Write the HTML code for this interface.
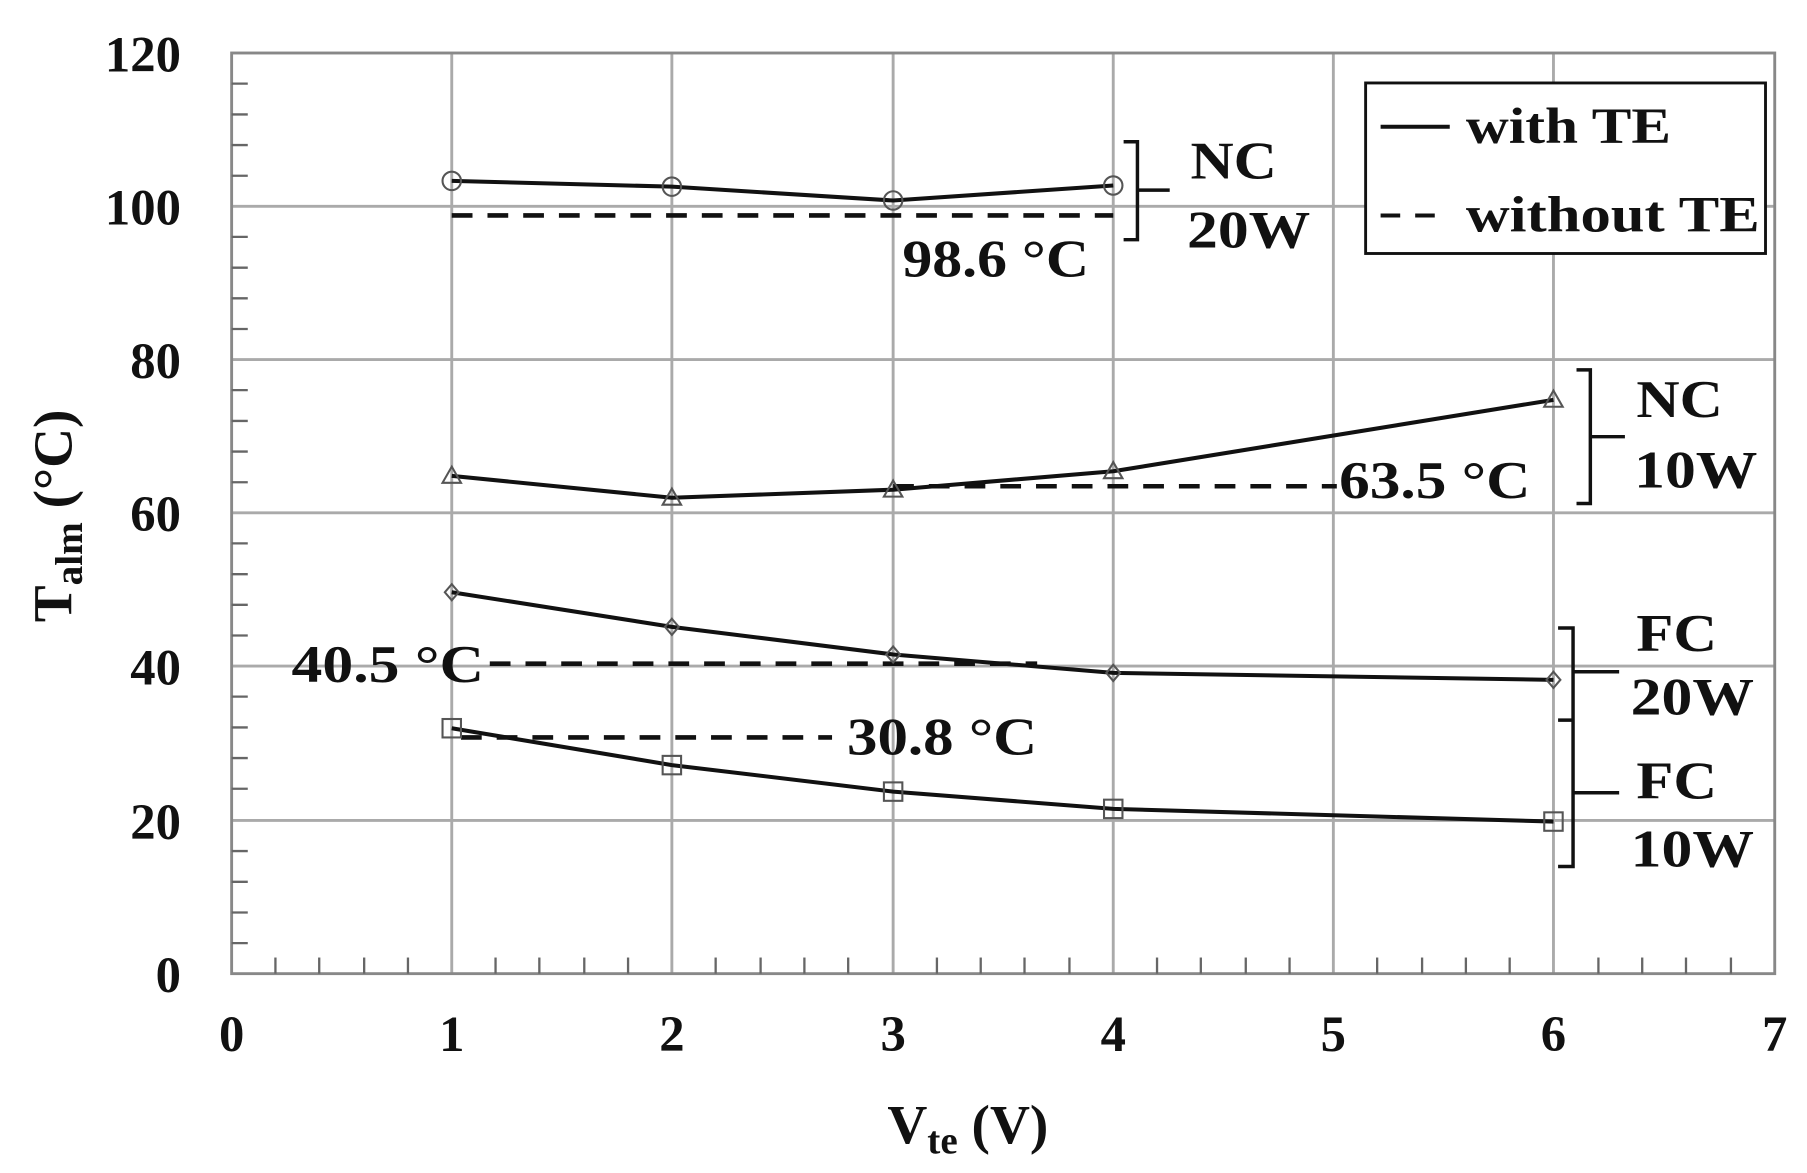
<!DOCTYPE html>
<html><head><meta charset="utf-8"><style>
html,body{margin:0;padding:0;background:#fff}
svg{display:block}
text{font-family:"Liberation Serif",serif;font-weight:bold;fill:#111}
</style></head><body>
<svg width="1807" height="1173" viewBox="0 0 1568 1018" preserveAspectRatio="none" xmlns="http://www.w3.org/2000/svg">
<g stroke="#aaa" stroke-width="2.5" fill="none">
<line x1="392" y1="46" x2="392" y2="845"/><line x1="583" y1="46" x2="583" y2="845"/><line x1="775" y1="46" x2="775" y2="845"/><line x1="966" y1="46" x2="966" y2="845"/><line x1="1157" y1="46" x2="1157" y2="845"/><line x1="1348" y1="46" x2="1348" y2="845"/>
<line x1="201" y1="179" x2="1540" y2="179"/><line x1="201" y1="312" x2="1540" y2="312"/><line x1="201" y1="445" x2="1540" y2="445"/><line x1="201" y1="578" x2="1540" y2="578"/><line x1="201" y1="712" x2="1540" y2="712"/>
<rect x="201" y="46" width="1339" height="799" stroke="#888"/>
</g>
<g stroke="#666" stroke-width="2">
<line x1="201" y1="72.6" x2="215" y2="72.6"/><line x1="201" y1="99.3" x2="215" y2="99.3"/><line x1="201" y1="125.9" x2="215" y2="125.9"/><line x1="201" y1="152.5" x2="215" y2="152.5"/>
<line x1="201" y1="205.6" x2="215" y2="205.6"/><line x1="201" y1="232.3" x2="215" y2="232.3"/><line x1="201" y1="258.9" x2="215" y2="258.9"/><line x1="201" y1="285.5" x2="215" y2="285.5"/>
<line x1="201" y1="338.6" x2="215" y2="338.6"/><line x1="201" y1="365.3" x2="215" y2="365.3"/><line x1="201" y1="391.9" x2="215" y2="391.9"/><line x1="201" y1="418.5" x2="215" y2="418.5"/>
<line x1="201" y1="471.6" x2="215" y2="471.6"/><line x1="201" y1="498.3" x2="215" y2="498.3"/><line x1="201" y1="524.9" x2="215" y2="524.9"/><line x1="201" y1="551.5" x2="215" y2="551.5"/>
<line x1="201" y1="604.6" x2="215" y2="604.6"/><line x1="201" y1="631.3" x2="215" y2="631.3"/><line x1="201" y1="657.9" x2="215" y2="657.9"/><line x1="201" y1="684.5" x2="215" y2="684.5"/>
<line x1="201" y1="738.6" x2="215" y2="738.6"/><line x1="201" y1="765.3" x2="215" y2="765.3"/><line x1="201" y1="791.9" x2="215" y2="791.9"/><line x1="201" y1="818.5" x2="215" y2="818.5"/>
</g>
<g stroke="#666" stroke-width="2">
<line x1="239" y1="845" x2="239" y2="831"/><line x1="277" y1="845" x2="277" y2="831"/><line x1="316" y1="845" x2="316" y2="831"/><line x1="354" y1="845" x2="354" y2="831"/>
<line x1="430" y1="845" x2="430" y2="831"/><line x1="468" y1="845" x2="468" y2="831"/><line x1="507" y1="845" x2="507" y2="831"/><line x1="545" y1="845" x2="545" y2="831"/>
<line x1="621" y1="845" x2="621" y2="831"/><line x1="660" y1="845" x2="660" y2="831"/><line x1="698" y1="845" x2="698" y2="831"/><line x1="736" y1="845" x2="736" y2="831"/>
<line x1="813" y1="845" x2="813" y2="831"/><line x1="851" y1="845" x2="851" y2="831"/><line x1="889" y1="845" x2="889" y2="831"/><line x1="928" y1="845" x2="928" y2="831"/>
<line x1="1004" y1="845" x2="1004" y2="831"/><line x1="1042" y1="845" x2="1042" y2="831"/><line x1="1081" y1="845" x2="1081" y2="831"/><line x1="1119" y1="845" x2="1119" y2="831"/>
<line x1="1195" y1="845" x2="1195" y2="831"/><line x1="1234" y1="845" x2="1234" y2="831"/><line x1="1272" y1="845" x2="1272" y2="831"/><line x1="1310" y1="845" x2="1310" y2="831"/>
<line x1="1387" y1="845" x2="1387" y2="831"/><line x1="1425" y1="845" x2="1425" y2="831"/><line x1="1463" y1="845" x2="1463" y2="831"/><line x1="1502" y1="845" x2="1502" y2="831"/>
</g>
<g font-size="44" text-anchor="end">
<text x="157" y="62">120</text><text x="157" y="195">100</text><text x="157" y="328">80</text><text x="157" y="461">60</text><text x="157" y="594">40</text><text x="157" y="728">20</text><text x="157" y="861">0</text>
</g>
<g font-size="44" text-anchor="middle">
<text x="201" y="912">0</text><text x="392" y="912">1</text><text x="583" y="912">2</text><text x="775" y="912">3</text><text x="966" y="912">4</text><text x="1157" y="912">5</text><text x="1348" y="912">6</text><text x="1540" y="912">7</text>
</g>
<text x="770" y="992" font-size="48">V<tspan font-size="34" dy="9">te</tspan><tspan dy="-9"> (V)</tspan></text>
<text transform="translate(62,540) rotate(-90)" font-size="48">T<tspan font-size="34" dy="9">alm</tspan><tspan dy="-9"> (°C)</tspan></text>
<g stroke="#111" stroke-width="4" stroke-dasharray="18,13" fill="none">
<line x1="392" y1="187" x2="966" y2="187"/>
<line x1="775" y1="422" x2="1160" y2="422"/>
<line x1="425" y1="576" x2="900" y2="576"/>
<line x1="400" y1="640" x2="722" y2="640"/>
</g>
<g stroke="#111" stroke-width="3.5" fill="none">
<polyline points="392,157 583,162 775,174 966,161"/>
<polyline points="392,413 583,432 775,425 966,409 1348,347"/>
<polyline points="392,514 583,544 775,568 966,584 1348,590"/>
<polyline points="392,632 583,664 775,687 966,702 1348,713"/>
</g>
<g stroke="#555" stroke-width="1.8" fill="none">
<circle cx="392" cy="157" r="8"/><circle cx="583" cy="162" r="8"/><circle cx="775" cy="174" r="8"/><circle cx="966" cy="161" r="8"/>
<path d="M392,405 l8,14 h-16z M583,424 l8,14 h-16z M775,417 l8,14 h-16z M966,401 l8,14 h-16z M1348,339 l8,14 h-16z"/>
<path d="M392,507 l6,7 -6,7 -6,-7z M583,537 l6,7 -6,7 -6,-7z M775,561 l6,7 -6,7 -6,-7z M966,577 l6,7 -6,7 -6,-7z M1348,583 l6,7 -6,7 -6,-7z"/>
<rect x="384" y="624" width="16" height="16"/><rect x="575" y="656" width="16" height="16"/><rect x="767" y="679" width="16" height="16"/><rect x="958" y="694" width="16" height="16"/><rect x="1340" y="705" width="16" height="16"/>
</g>
<g stroke="#111" stroke-width="3" fill="none">
<path d="M975,123 H987 V208 H975 M987,165 H1015"/>
<path d="M1368,321 H1380 V437 H1368 M1380,379 H1410"/>
<path d="M1352,545 H1365 V752 H1352 M1352,625 H1365 M1365,583 H1405 M1365,688 H1405"/>
</g>
<g font-size="46" lengthAdjust="spacingAndGlyphs">
<text x="783" y="240" textLength="162" lengthAdjust="spacingAndGlyphs">98.6 °C</text>
<text x="1162" y="432" textLength="166" lengthAdjust="spacingAndGlyphs">63.5 °C</text>
<text x="253" y="592" textLength="167" lengthAdjust="spacingAndGlyphs">40.5 °C</text>
<text x="735" y="655" textLength="165" lengthAdjust="spacingAndGlyphs">30.8 °C</text>
<text x="1033" y="155" textLength="75" lengthAdjust="spacingAndGlyphs">NC</text><text x="1030" y="215" textLength="107" lengthAdjust="spacingAndGlyphs">20W</text>
<text x="1420" y="362" textLength="75" lengthAdjust="spacingAndGlyphs">NC</text><text x="1418" y="423" textLength="107" lengthAdjust="spacingAndGlyphs">10W</text>
<text x="1420" y="565" textLength="70" lengthAdjust="spacingAndGlyphs">FC</text><text x="1415" y="620" textLength="107" lengthAdjust="spacingAndGlyphs">20W</text>
<text x="1420" y="693" textLength="70" lengthAdjust="spacingAndGlyphs">FC</text><text x="1415" y="752" textLength="107" lengthAdjust="spacingAndGlyphs">10W</text>
</g>
<rect x="1185" y="72" width="347" height="148" fill="#fff" stroke="#111" stroke-width="2.5"/>
<line x1="1198" y1="110" x2="1258" y2="110" stroke="#111" stroke-width="3.5"/>
<line x1="1198" y1="187" x2="1258" y2="187" stroke="#111" stroke-width="3.5" stroke-dasharray="17,13"/>
<g font-size="44"><text x="1272" y="124" textLength="178" lengthAdjust="spacingAndGlyphs">with TE</text><text x="1272" y="201" textLength="255" lengthAdjust="spacingAndGlyphs">without TE</text></g>
</svg>
</body></html>
